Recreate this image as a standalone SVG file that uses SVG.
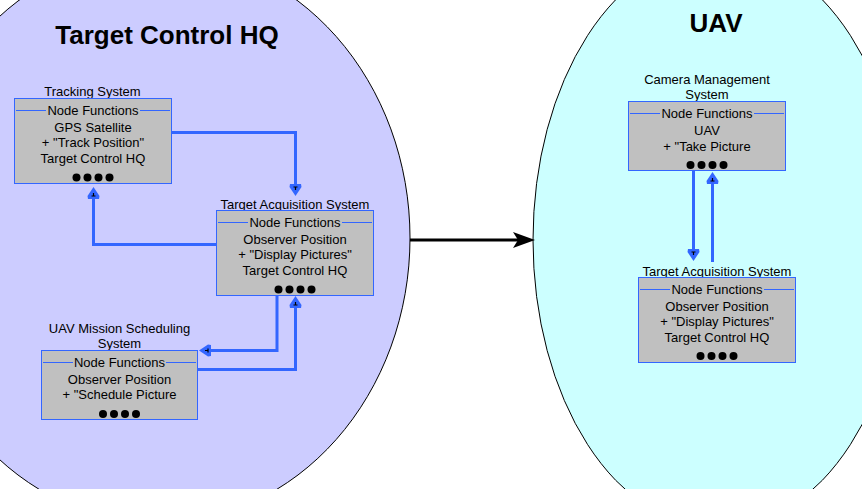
<svg xmlns="http://www.w3.org/2000/svg" width="862" height="489" viewBox="0 0 862 489">
<defs>
<style>
.zone{stroke:#000;stroke-width:1}
.ztitle{font-family:"Liberation Sans",Arial,sans-serif;font-weight:bold;font-size:26px;text-anchor:middle;fill:#000}
.box{fill:#C0C0C0;stroke:#3366FF;stroke-width:1}
.t{font-family:"Liberation Sans",Arial,sans-serif;font-size:13px;text-anchor:middle;fill:#000}
.div{stroke:#3366FF;stroke-width:1}
.dot{fill:#000}
.conn{fill:none;stroke:#3366FF;stroke-width:3}
.big{fill:none;stroke:#000;stroke-width:3}
</style>
<marker id="ab" markerUnits="userSpaceOnUse" markerWidth="14" markerHeight="14" refX="0" refY="6" orient="auto" viewBox="0 0 14 12">
<path d="M0,0.5 L3,0 L12,6 L3,12 L0,11.5 Z" fill="#3366FF"/>
<path d="M3,4 L3,8 M3,6 L6,6" stroke="#000" stroke-width="1.2" fill="none"/>
</marker>
</defs>
<rect width="862" height="489" fill="#fff"/>
<g id="zone-hq">
<ellipse class="zone" cx="158" cy="238" rx="252" ry="285" fill="#CCCCFF"/>
<text class="ztitle" x="167" y="44">Target Control HQ</text>
</g>
<g id="zone-uav">
<ellipse class="zone" cx="719" cy="240" rx="186" ry="289" fill="#CCFFFF"/>
<text class="ztitle" x="716" y="32">UAV</text>
</g>
<g id="tracking">
<text class="t" x="92.5" y="96">Tracking System</text>
<rect class="box" x="14.5" y="98.5" width="157" height="85"/>
<line class="div" x1="16" y1="110.5" x2="46" y2="110.5"/><line class="div" x1="140" y1="110.5" x2="170" y2="110.5"/>
<text class="t" x="93" y="114.5">Node Functions</text>
<text class="t" x="93" y="131.5">GPS Satellite</text>
<text class="t" x="93" y="147">+ "Track Position"</text>
<text class="t" x="93" y="162.5">Target Control HQ</text>
<circle class="dot" cx="76.5" cy="177.5" r="4"/><circle class="dot" cx="87.5" cy="177.5" r="4"/><circle class="dot" cx="98.5" cy="177.5" r="4"/><circle class="dot" cx="109.5" cy="177.5" r="4"/>
</g>
<g id="tas-left">
<text class="t" x="295" y="208.5">Target Acquisition System</text>
<rect class="box" x="216.5" y="210.5" width="157" height="85"/>
<line class="div" x1="218" y1="222.5" x2="248" y2="222.5"/><line class="div" x1="342" y1="222.5" x2="372" y2="222.5"/>
<text class="t" x="295" y="226.5">Node Functions</text>
<text class="t" x="295" y="243.5">Observer Position</text>
<text class="t" x="295" y="259">+ "Display Pictures"</text>
<text class="t" x="295" y="274.5">Target Control HQ</text>
<circle class="dot" cx="278.5" cy="289.5" r="4"/><circle class="dot" cx="289.5" cy="289.5" r="4"/><circle class="dot" cx="300.5" cy="289.5" r="4"/><circle class="dot" cx="311.5" cy="289.5" r="4"/>
</g>
<g id="uav-mission">
<text class="t" x="119.5" y="333">UAV Mission Scheduling</text>
<text class="t" x="119.5" y="348">System</text>
<rect class="box" x="41.5" y="350.5" width="156" height="69"/>
<line class="div" x1="43" y1="362.5" x2="73" y2="362.5"/><line class="div" x1="166" y1="362.5" x2="196" y2="362.5"/>
<text class="t" x="119.5" y="366.5">Node Functions</text>
<text class="t" x="119.5" y="383.5">Observer Position</text>
<text class="t" x="119.5" y="399">+ "Schedule Picture</text>
<circle class="dot" cx="103" cy="414" r="4"/><circle class="dot" cx="114" cy="414" r="4"/><circle class="dot" cx="125" cy="414" r="4"/><circle class="dot" cx="136" cy="414" r="4"/>
</g>
<g id="camera">
<text class="t" x="707" y="84">Camera Management</text>
<text class="t" x="707" y="99">System</text>
<rect class="box" x="628.5" y="101.5" width="157" height="69"/>
<line class="div" x1="630" y1="113.5" x2="660" y2="113.5"/><line class="div" x1="754" y1="113.5" x2="784" y2="113.5"/>
<text class="t" x="707" y="117.5">Node Functions</text>
<text class="t" x="707" y="135">UAV</text>
<text class="t" x="707" y="150.5">+ "Take Picture</text>
<circle class="dot" cx="690.5" cy="165" r="4"/><circle class="dot" cx="701.5" cy="165" r="4"/><circle class="dot" cx="712.5" cy="165" r="4"/><circle class="dot" cx="723.5" cy="165" r="4"/>
</g>
<g id="tas-right">
<text class="t" x="717" y="275.5">Target Acquisition System</text>
<rect class="box" x="638.5" y="277.5" width="157" height="85"/>
<line class="div" x1="640" y1="289.5" x2="670" y2="289.5"/><line class="div" x1="764" y1="289.5" x2="794" y2="289.5"/>
<text class="t" x="717" y="293.5">Node Functions</text>
<text class="t" x="717" y="310.5">Observer Position</text>
<text class="t" x="717" y="326">+ "Display Pictures"</text>
<text class="t" x="717" y="341.5">Target Control HQ</text>
<circle class="dot" cx="700.5" cy="356" r="4"/><circle class="dot" cx="711.5" cy="356" r="4"/><circle class="dot" cx="722.5" cy="356" r="4"/><circle class="dot" cx="733.5" cy="356" r="4"/>
</g>
<g id="connectors">
<path class="conn" d="M171,132.5 H295.5 V184" marker-end="url(#ab)"/>
<path class="conn" d="M216,244.5 H93.5 V199" marker-end="url(#ab)"/>
<path class="conn" d="M277,296 V350.5 H211" marker-end="url(#ab)"/>
<path class="conn" d="M198,369.5 H295.5 V308" marker-end="url(#ab)"/>
<path class="conn" d="M693.5,171 V249" marker-end="url(#ab)"/>
<path class="conn" d="M712.5,262 V184" marker-end="url(#ab)"/>
<path class="big" d="M410,240 H518"/>
<path d="M535,240 L513,232 L518,240 L513,248 Z" fill="#000"/>
</g>
</svg>
